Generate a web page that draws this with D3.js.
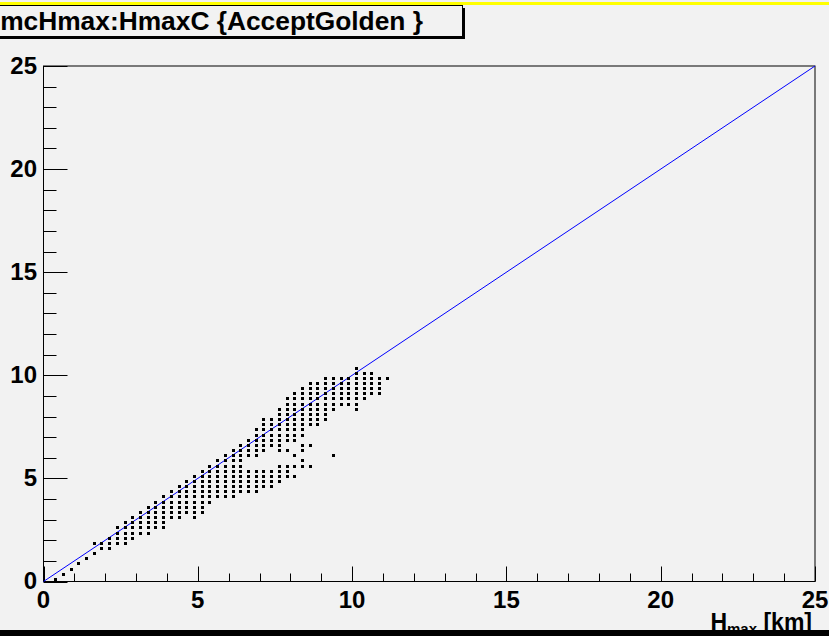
<!DOCTYPE html>
<html>
<head>
<meta charset="utf-8">
<script src="https://cdn.jsdelivr.net/npm/d3@7"></script>
<style>
  html, body { margin: 0; padding: 0; background: #f2f2f2; overflow: hidden; }
  text { font-family: "Liberation Sans", Arial, sans-serif; font-weight: bold; }
</style>
</head>
<body>
<script>
const W = 829;
const H = 636;

const TITLE = "mcHmax:HmaxC {AcceptGolden }";
const X_TICKS = [0, 5, 10, 15, 20, 25];
const Y_TICKS = [0, 5, 10, 15, 20, 25];

// HmaxC bin centres (x) and the mcHmax values filled in each column (y)
const hmaxC = [0.375, 0.625, 0.875, 1.125, 1.375, 1.625, 1.875, 2.125, 2.375, 2.625,
  2.875, 3.125, 3.375, 3.625, 3.875, 4.125, 4.375, 4.625, 4.875, 5.125,
  5.375, 5.625, 5.875, 6.125, 6.375, 6.625, 6.875, 7.125, 7.375, 7.625,
  7.875, 8.125, 8.375, 8.625, 8.875, 9.125, 9.375, 9.625, 9.875, 10.125,
  10.375, 10.625, 10.875, 11.125];

const mcHmax = [
  [0.125],
  [0.375],
  [0.625],
  [0.875],
  [1.125],
  [1.375, 1.875],
  [1.625, 1.875],
  [1.625, 1.875, 2.125],
  [1.875, 2.125, 2.375, 2.625],
  [1.875, 2.125, 2.375, 2.625, 2.875],
  [2.125, 2.375, 2.625, 2.875, 3.125],
  [2.375, 2.625, 2.875, 3.125, 3.375],
  [2.375, 2.625, 2.875, 3.125, 3.375, 3.625],
  [2.625, 2.875, 3.125, 3.375, 3.625, 3.875],
  [2.625, 2.875, 3.125, 3.375, 3.625, 3.875, 4.125],
  [3.125, 3.375, 3.625, 3.875, 4.125, 4.375],
  [3.125, 3.375, 3.625, 3.875, 4.125, 4.375, 4.625],
  [3.375, 3.625, 3.875, 4.125, 4.375, 4.625, 4.875],
  [3.125, 3.375, 3.625, 3.875, 4.125, 4.375, 4.625, 4.875, 5.125],
  [3.375, 3.625, 3.875, 4.125, 4.375, 4.625, 4.875, 5.125, 5.375],
  [3.875, 4.125, 4.375, 4.625, 4.875, 5.125, 5.375, 5.625],
  [4.125, 4.375, 4.625, 4.875, 5.125, 5.375, 5.625, 5.875],
  [4.125, 4.375, 4.625, 4.875, 5.125, 5.375, 5.625, 5.875, 6.125],
  [4.125, 4.375, 4.625, 4.875, 5.125, 5.375, 5.625, 5.875, 6.125, 6.375],
  [4.375, 4.625, 4.875, 5.125, 5.375, 5.625, 5.875, 6.125, 6.375, 6.625],
  [4.375, 4.625, 4.875, 5.125, 5.375, 6.125, 6.375, 6.625, 6.875],
  [4.375, 4.625, 4.875, 5.125, 5.375, 6.125, 6.375, 6.625, 6.875, 7.125, 7.375],
  [4.625, 4.875, 5.125, 5.375, 6.375, 6.625, 6.875, 7.125, 7.375, 7.625, 7.875],
  [4.625, 4.875, 5.125, 5.375, 6.625, 6.875, 7.125, 7.375, 7.625, 7.875],
  [4.875, 5.125, 5.375, 5.625, 6.375, 6.625, 6.875, 7.125, 7.375, 7.625, 7.875, 8.125, 8.375],
  [5.125, 5.375, 5.625, 6.375, 6.875, 7.125, 7.375, 7.625, 7.875, 8.125, 8.375, 8.625, 8.875],
  [5.125, 5.625, 6.125, 6.875, 7.125, 7.375, 7.625, 7.875, 8.125, 8.375, 8.625, 8.875, 9.125],
  [5.625, 5.875, 6.375, 6.625, 7.125, 7.375, 7.625, 7.875, 8.125, 8.375, 8.625, 8.875, 9.125, 9.375],
  [5.625, 6.625, 7.625, 7.875, 8.125, 8.375, 8.625, 8.875, 9.125, 9.375, 9.625],
  [7.625, 7.875, 8.125, 8.375, 8.625, 8.875, 9.125, 9.375, 9.625],
  [7.875, 8.125, 8.375, 8.625, 8.875, 9.125, 9.375, 9.625, 9.875],
  [6.125, 8.375, 8.625, 8.875, 9.125, 9.375, 9.625, 9.875],
  [8.625, 8.875, 9.125, 9.375, 9.625, 9.875],
  [8.625, 8.875, 9.125, 9.375, 9.625, 9.875],
  [8.375, 8.625, 8.875, 9.125, 9.375, 9.625, 9.875, 10.125, 10.375],
  [8.875, 9.125, 9.375, 9.625, 9.875, 10.125],
  [9.125, 9.375, 9.625, 9.875, 10.125],
  [9.125, 9.375, 9.625, 9.875],
  [9.875]
];

const points = [];
hmaxC.forEach((x, i) => mcHmax[i].forEach(y => points.push({x, y})));

const x = d3.scaleLinear().domain([0, 25]).range([43.5, 815]);
const y = d3.scaleLinear().domain([0, 25]).range([581.5, 66]);

const svg = d3.select("body").append("svg")
  .attr("width", W)
  .attr("height", H)
  .style("display", "block");

svg.append("rect").attr("width", W).attr("height", H).attr("fill", "#f2f2f2");

// yellow pad highlight at the top
svg.append("rect").attr("x", 0).attr("y", 2).attr("width", W).attr("height", 3).attr("fill", "#ffff00");

// title pave with shadow
svg.append("rect").attr("x", -10).attr("y", 8).attr("width", 475).attr("height", 31).attr("fill", "#000");
svg.append("rect").attr("x", -10).attr("y", 5.5).attr("width", 472.5).attr("height", 31)
  .attr("fill", "#f2f2f2").attr("stroke", "#000").attr("stroke-width", 1);
const title = svg.append("text")
  .attr("x", 423).attr("y", 30)
  .attr("text-anchor", "end")
  .attr("font-size", 22)
  .text(TITLE);
const tw = title.node().getComputedTextLength();
title.attr("font-size", 22 * 423 / tw);

// y axis ticks (inside the frame)
const yMinor = d3.range(0, 26, 1);
svg.append("g").selectAll("line").data(yMinor).join("line")
  .attr("x1", x(0)).attr("x2", d => x(0) + (d % 5 === 0 ? 24 : 13))
  .attr("y1", d => Math.round(y(d)) + 0.5).attr("y2", d => Math.round(y(d)) + 0.5)
  .attr("stroke", "#000").attr("stroke-width", 1);

// x axis ticks
const xMinor = d3.range(0, 26, 1);
svg.append("g").selectAll("line").data(xMinor).join("line")
  .attr("x1", d => Math.round(x(d)) + 0.5).attr("x2", d => Math.round(x(d)) + 0.5)
  .attr("y1", y(0)).attr("y2", d => y(0) - (d % 5 === 0 ? 15 : 8))
  .attr("stroke", "#000").attr("stroke-width", 1);

// frame
svg.append("rect")
  .attr("x", x(0)).attr("y", y(25))
  .attr("width", x(25) - x(0)).attr("height", y(0) - y(25))
  .attr("fill", "none").attr("stroke", "#000").attr("stroke-width", 1);

// tick labels
svg.append("g").selectAll("text").data(Y_TICKS).join("text")
  .attr("x", 37).attr("y", d => y(d) + 7.5)
  .attr("text-anchor", "end")
  .attr("font-size", 24)
  .text(d => d);

svg.append("g").selectAll("text").data(X_TICKS).join("text")
  .attr("x", d => x(d)).attr("y", 607.5)
  .attr("text-anchor", "middle")
  .attr("font-size", 24)
  .text(d => d);

// axis title H_max [km]
const xt = svg.append("text").attr("x", 812).attr("y", 630).attr("text-anchor", "end").attr("font-size", 23);
xt.append("tspan").text("H");
xt.append("tspan").attr("font-size", 15).attr("dy", 4).text("max");
xt.append("tspan").attr("dy", -4).text(" [km]");

// diagonal
svg.append("line")
  .attr("x1", x(0)).attr("y1", y(0))
  .attr("x2", x(25)).attr("y2", y(25))
  .attr("stroke", "#0000ff").attr("stroke-width", 1);

// scatter markers
svg.append("g").selectAll("rect").data(points).join("rect")
  .attr("x", d => Math.round(x(d.x)) - 1)
  .attr("y", d => Math.round(y(d.y)) - 1)
  .attr("width", 3).attr("height", 3)
  .attr("fill", "#000");

// bottom black band
svg.append("rect").attr("x", 0).attr("y", 630).attr("width", W).attr("height", 6).attr("fill", "#000");
</script>
</body>
</html>
